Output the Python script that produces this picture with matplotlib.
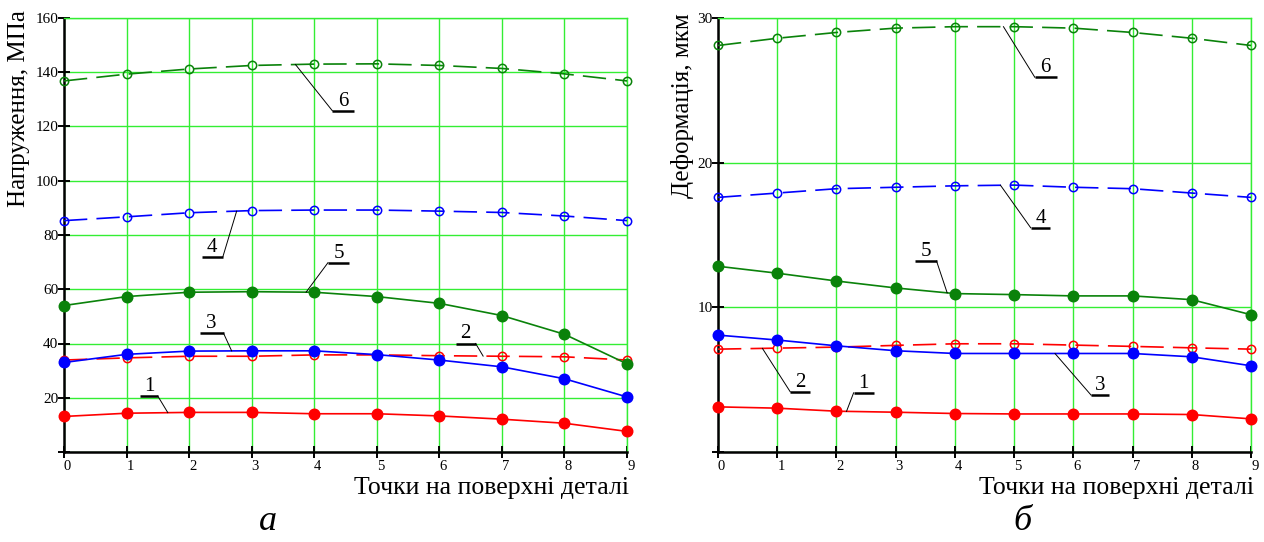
import numpy as np
import matplotlib.pyplot as plt

plt.rcParams['font.family'] = ['Liberation Serif', 'DejaVu Serif']

# Points on the part surface
points = np.arange(10)

# Stresses, MPa (curves 1..6)
stress_1 = [13.1, 14.3, 14.6, 14.6, 14.1, 14.1, 13.3, 12.1, 10.6, 7.6]
stress_2 = [33.9, 34.7, 35.3, 35.3, 35.8, 35.8, 35.5, 35.3, 35.1, 33.9]
stress_3 = [33.0, 36.0, 37.2, 37.3, 37.3, 35.9, 33.9, 31.4, 27.0, 20.3]
stress_4 = [85.3, 86.7, 88.2, 89.0, 89.2, 89.2, 88.8, 88.3, 87.0, 85.3]
stress_5 = [54.0, 57.3, 58.9, 59.1, 58.9, 57.3, 54.8, 50.3, 43.4, 32.5]
stress_6 = [136.8, 139.3, 141.2, 142.5, 143.0, 143.1, 142.5, 141.4, 139.4, 136.8]

# Deformations, um (curves 1..6)
deform_1 = [3.12, 3.03, 2.82, 2.75, 2.66, 2.63, 2.63, 2.63, 2.59, 2.29]
deform_2 = [7.11, 7.18, 7.25, 7.37, 7.48, 7.48, 7.39, 7.30, 7.20, 7.11]
deform_3 = [8.08, 7.74, 7.34, 7.00, 6.81, 6.81, 6.81, 6.81, 6.58, 5.96]
deform_4 = [17.6, 17.9, 18.2, 18.3, 18.4, 18.45, 18.3, 18.2, 17.9, 17.6]
deform_5 = [12.84, 12.36, 11.82, 11.34, 10.95, 10.88, 10.79, 10.79, 10.53, 9.49]
deform_6 = [28.1, 28.6, 29.0, 29.3, 29.4, 29.4, 29.3, 29.0, 28.6, 28.1]

stress_series = [stress_1, stress_2, stress_3, stress_4, stress_5, stress_6]
deform_series = [deform_1, deform_2, deform_3, deform_4, deform_5, deform_6]
curve_names = ['1', '2', '3', '4', '5', '6']

stress_ticks = [0, 20, 40, 60, 80, 100, 120, 140, 160]
deform_ticks = [0, 10, 20, 30]

x_label = 'Точки на поверхні деталі'
stress_label = 'Напруження, МПа'
deform_label = 'Деформація, мкм'
panel_letters = ['а', 'б']

RED, BLUE, GREEN = '#ff0000', '#0000ff', '#0a820a'
GRID = '#33ee33'
DASH = (0, (14, 5.5))
styles = [
    dict(color=RED, ls='-', mfc=RED),
    dict(color=RED, ls=DASH, mfc='none'),
    dict(color=BLUE, ls='-', mfc=BLUE),
    dict(color=BLUE, ls=DASH, mfc='none'),
    dict(color=GREEN, ls='-', mfc=GREEN),
    dict(color=GREEN, ls=DASH, mfc='none'),
]

# Callout placement: (curve index, x on curve, underline x-start, underline x-end,
#                     underline y, leader attached to 'left'/'right' end of underline)
stress_callouts = [
    (5, 3.70, 4.29, 4.64, 125.8, 'left'),
    (3, 2.76, 2.20, 2.54, 72.0, 'right'),
    (4, 3.87, 4.22, 4.56, 69.8, 'left'),
    (2, 2.68, 2.17, 2.55, 43.8, 'right'),
    (1, 6.70, 6.26, 6.58, 40.0, 'right'),
    (0, 1.66, 1.22, 1.50, 20.6, 'right'),
]
deform_callouts = [
    (5, 4.82, 5.35, 5.72, 25.9, 'left'),
    (3, 4.77, 5.28, 5.61, 15.5, 'left'),
    (4, 3.87, 3.33, 3.69, 13.2, 'right'),
    (2, 5.69, 6.30, 6.60, 3.93, 'left'),
    (1, 0.75, 1.22, 1.56, 4.16, 'left'),
    (0, 2.17, 2.29, 2.63, 4.09, 'left'),
]

W, H = 1264, 542
fig = plt.figure(figsize=(W / 100, H / 100), dpi=100)
ax_l = fig.add_axes([64 / W, 1 - 452 / H, (627 - 64) / W, (452 - 18) / H])
ax_r = fig.add_axes([718 / W, 1 - 452 / H, (1251 - 718) / W, (452 - 18) / H])


def draw_panel(ax, series, yticks, callouts):
    ax.set_xlim(0, 9)
    ax.set_ylim(yticks[0], yticks[-1])
    ax.set_xticks(points)
    ax.set_yticks(yticks)
    ax.set_yticklabels([''] + [str(t) for t in yticks[1:]])
    ax.grid(True, color=GRID, lw=1.0, zorder=0)
    ax.set_axisbelow(True)
    for side in ('top', 'right'):
        ax.spines[side].set_color(GRID)
        ax.spines[side].set_linewidth(1.0)
    for side in ('left', 'bottom'):
        ax.spines[side].set_color('black')
        ax.spines[side].set_linewidth(1.8)
    ax.tick_params(axis='both', direction='inout', length=8, width=1.4, colors='black')
    ax.tick_params(axis='y', labelsize=11, pad=0)
    ax.tick_params(axis='x', labelsize=10.5, pad=2)
    for lab in ax.get_xticklabels():
        lab.set_horizontalalignment('left')

    for vals, st in zip(series, styles):
        filled = st['mfc'] != 'none'
        ax.plot(points, vals, color=st['color'], ls=st['ls'], lw=1.2,
                marker='o', ms=7.5 if filled else 6.0,
                mfc=st['mfc'], mec=st['color'], mew=1.1, zorder=3, clip_on=False)

    for idx, xc, u0, u1, uy, side in callouts:
        yc = np.interp(xc, points, series[idx])
        xe = u0 if side == 'left' else u1
        ax.plot([xc, xe], [yc, uy], color='black', lw=0.7, zorder=4)
        ax.plot([u0, u1], [uy, uy], color='black', lw=1.8, zorder=4, solid_capstyle='butt')
        ax.text((u0 + u1) / 2, uy, curve_names[idx], ha='center', va='bottom',
                fontsize=15, zorder=5)


draw_panel(ax_l, stress_series, stress_ticks, stress_callouts)
draw_panel(ax_r, deform_series, deform_ticks, deform_callouts)

# Axis titles: y title along the top of the axis, x title flush right under the ticks
fig.text(19 / W, 1 - 10 / H, stress_label, rotation=90, ha='center', va='top', fontsize=18)
fig.text(683 / W, 1 - 13 / H, deform_label, rotation=90, ha='center', va='top', fontsize=18)
fig.text(629 / W, 1 - 488 / H, x_label, ha='right', va='center', fontsize=18.5)
fig.text(1254 / W, 1 - 488 / H, x_label, ha='right', va='center', fontsize=18.5)

# Panel letters
fig.text(268 / W, 1 - 522 / H, panel_letters[0], ha='center', va='center',
         fontsize=26, style='italic')
fig.text(1022 / W, 1 - 522 / H, panel_letters[1], ha='center', va='center',
         fontsize=26, style='italic')

fig.savefig('out.png', dpi=100)
